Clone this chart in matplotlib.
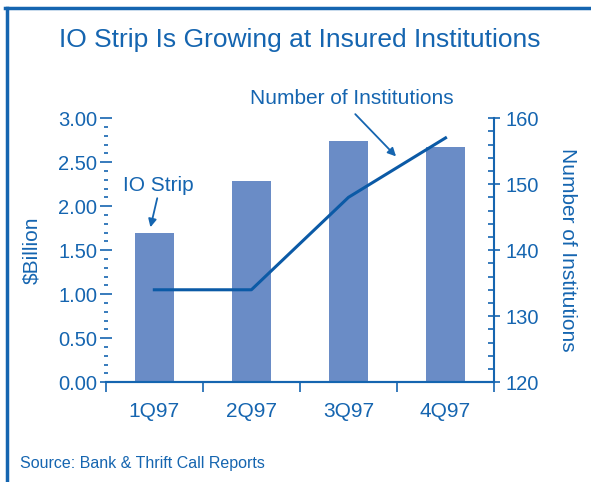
import matplotlib
matplotlib.use("Agg")
import matplotlib.pyplot as plt
from matplotlib.ticker import MultipleLocator, FixedLocator
from matplotlib.lines import Line2D

plt.rcParams["font.family"] = ["Liberation Sans", "DejaVu Sans"]

BLUE = "#1565b0"
BAR_BLUE = "#6a8cc6"
LINE_BLUE = "#0b5aa6"

quarters = ["1Q97", "2Q97", "3Q97", "4Q97"]
io_strip = [1.69, 2.29, 2.74, 2.67]          # $Billion
institutions = [134, 134, 148, 157]          # count

fig = plt.figure(figsize=(5.91, 4.82), dpi=100)
ax = fig.add_axes([0.179, 0.207, 0.657, 0.548])
ax2 = ax.twinx()

x = list(range(len(quarters)))
ax.bar(x, io_strip, width=0.4, color=BAR_BLUE, zorder=2)
ax2.plot(x, institutions, color=LINE_BLUE, linewidth=2.2, zorder=3)

# left axis
ax.set_xlim(-0.5, 3.5)
ax.set_ylim(0, 3)
ax.yaxis.set_major_locator(MultipleLocator(0.5))
ax.yaxis.set_minor_locator(MultipleLocator(0.1))
ax.set_yticklabels([f"{v:.2f}" for v in ax.get_yticks()])
ax.tick_params(axis="y", which="major", direction="inout", length=8, width=1.2,
               color=BLUE, labelcolor=BLUE, labelsize=14.5, pad=2)
ax.tick_params(axis="y", which="minor", direction="inout", length=3, width=1.2, color=BLUE)
ax.set_ylabel("$Billion", color=BLUE, fontsize=15, labelpad=12)

# x axis
ax.xaxis.set_major_locator(FixedLocator(x))
ax.set_xticklabels(quarters)
ax.xaxis.set_minor_locator(FixedLocator([-0.5, 0.5, 1.5, 2.5, 3.5]))
ax.tick_params(axis="x", which="major", direction="in", length=4, width=1.2,
               color=BLUE, labelcolor=BLUE, labelsize=15, pad=14)
ax.tick_params(axis="x", which="minor", direction="out", length=7, width=1.2, color=BLUE)

# right axis
ax2.set_ylim(120, 160)
ax2.yaxis.set_major_locator(MultipleLocator(10))
ax2.yaxis.set_minor_locator(MultipleLocator(2))
ax2.tick_params(axis="y", which="major", direction="inout", length=9, width=1.2,
                color=BLUE, labelcolor=BLUE, labelsize=14.5, pad=4)
ax2.tick_params(axis="y", which="minor", direction="in", length=4, width=1.2, color=BLUE)
ax2.set_ylabel("Number of Institutions", color=BLUE, fontsize=15,
               rotation=-90, labelpad=27)

for a in (ax, ax2):
    for s in ("top", "left", "right"):
        a.spines[s].set_visible(False)
    a.spines["bottom"].set_color(BLUE)
    a.spines["bottom"].set_linewidth(1.5)
    a.patch.set_visible(False)
ax2.spines["right"].set_visible(True)
ax2.spines["right"].set_color(BLUE)
ax2.spines["right"].set_linewidth(1.5)

# annotations
arrow = dict(arrowstyle="-|>", color=BLUE, lw=1.3, mutation_scale=12,
             shrinkA=0, shrinkB=0)
ax.text(0.04, 2.24, "IO Strip", color=BLUE, fontsize=15, ha="center", va="center")
ax.annotate("", xy=(-0.04, 1.76), xytext=(0.03, 2.09), arrowprops=arrow)
ax2.text(2.03, 163.0, "Number of Institutions", color=BLUE, fontsize=15,
         ha="center", va="center", clip_on=False)
ax2.annotate("", xy=(2.49, 154.2), xytext=(2.07, 160.6), arrowprops=arrow,
             annotation_clip=False)

fig.text(0.508, 0.918, "IO Strip Is Growing at Insured Institutions",
         color=BLUE, fontsize=19, ha="center", va="center")
fig.text(0.034, 0.039, "Source: Bank & Thrift Call Reports",
         color=BLUE, fontsize=11.5, ha="left", va="center")

# frame lines
fig.add_artist(Line2D([0.011, 0.011], [0.0, 0.984], transform=fig.transFigure,
                      color=BLUE, linewidth=2.5))
fig.add_artist(Line2D([0.009, 1.0], [0.983, 0.983], transform=fig.transFigure,
                      color=BLUE, linewidth=2.5))

fig.savefig("out.png", dpi=100)
